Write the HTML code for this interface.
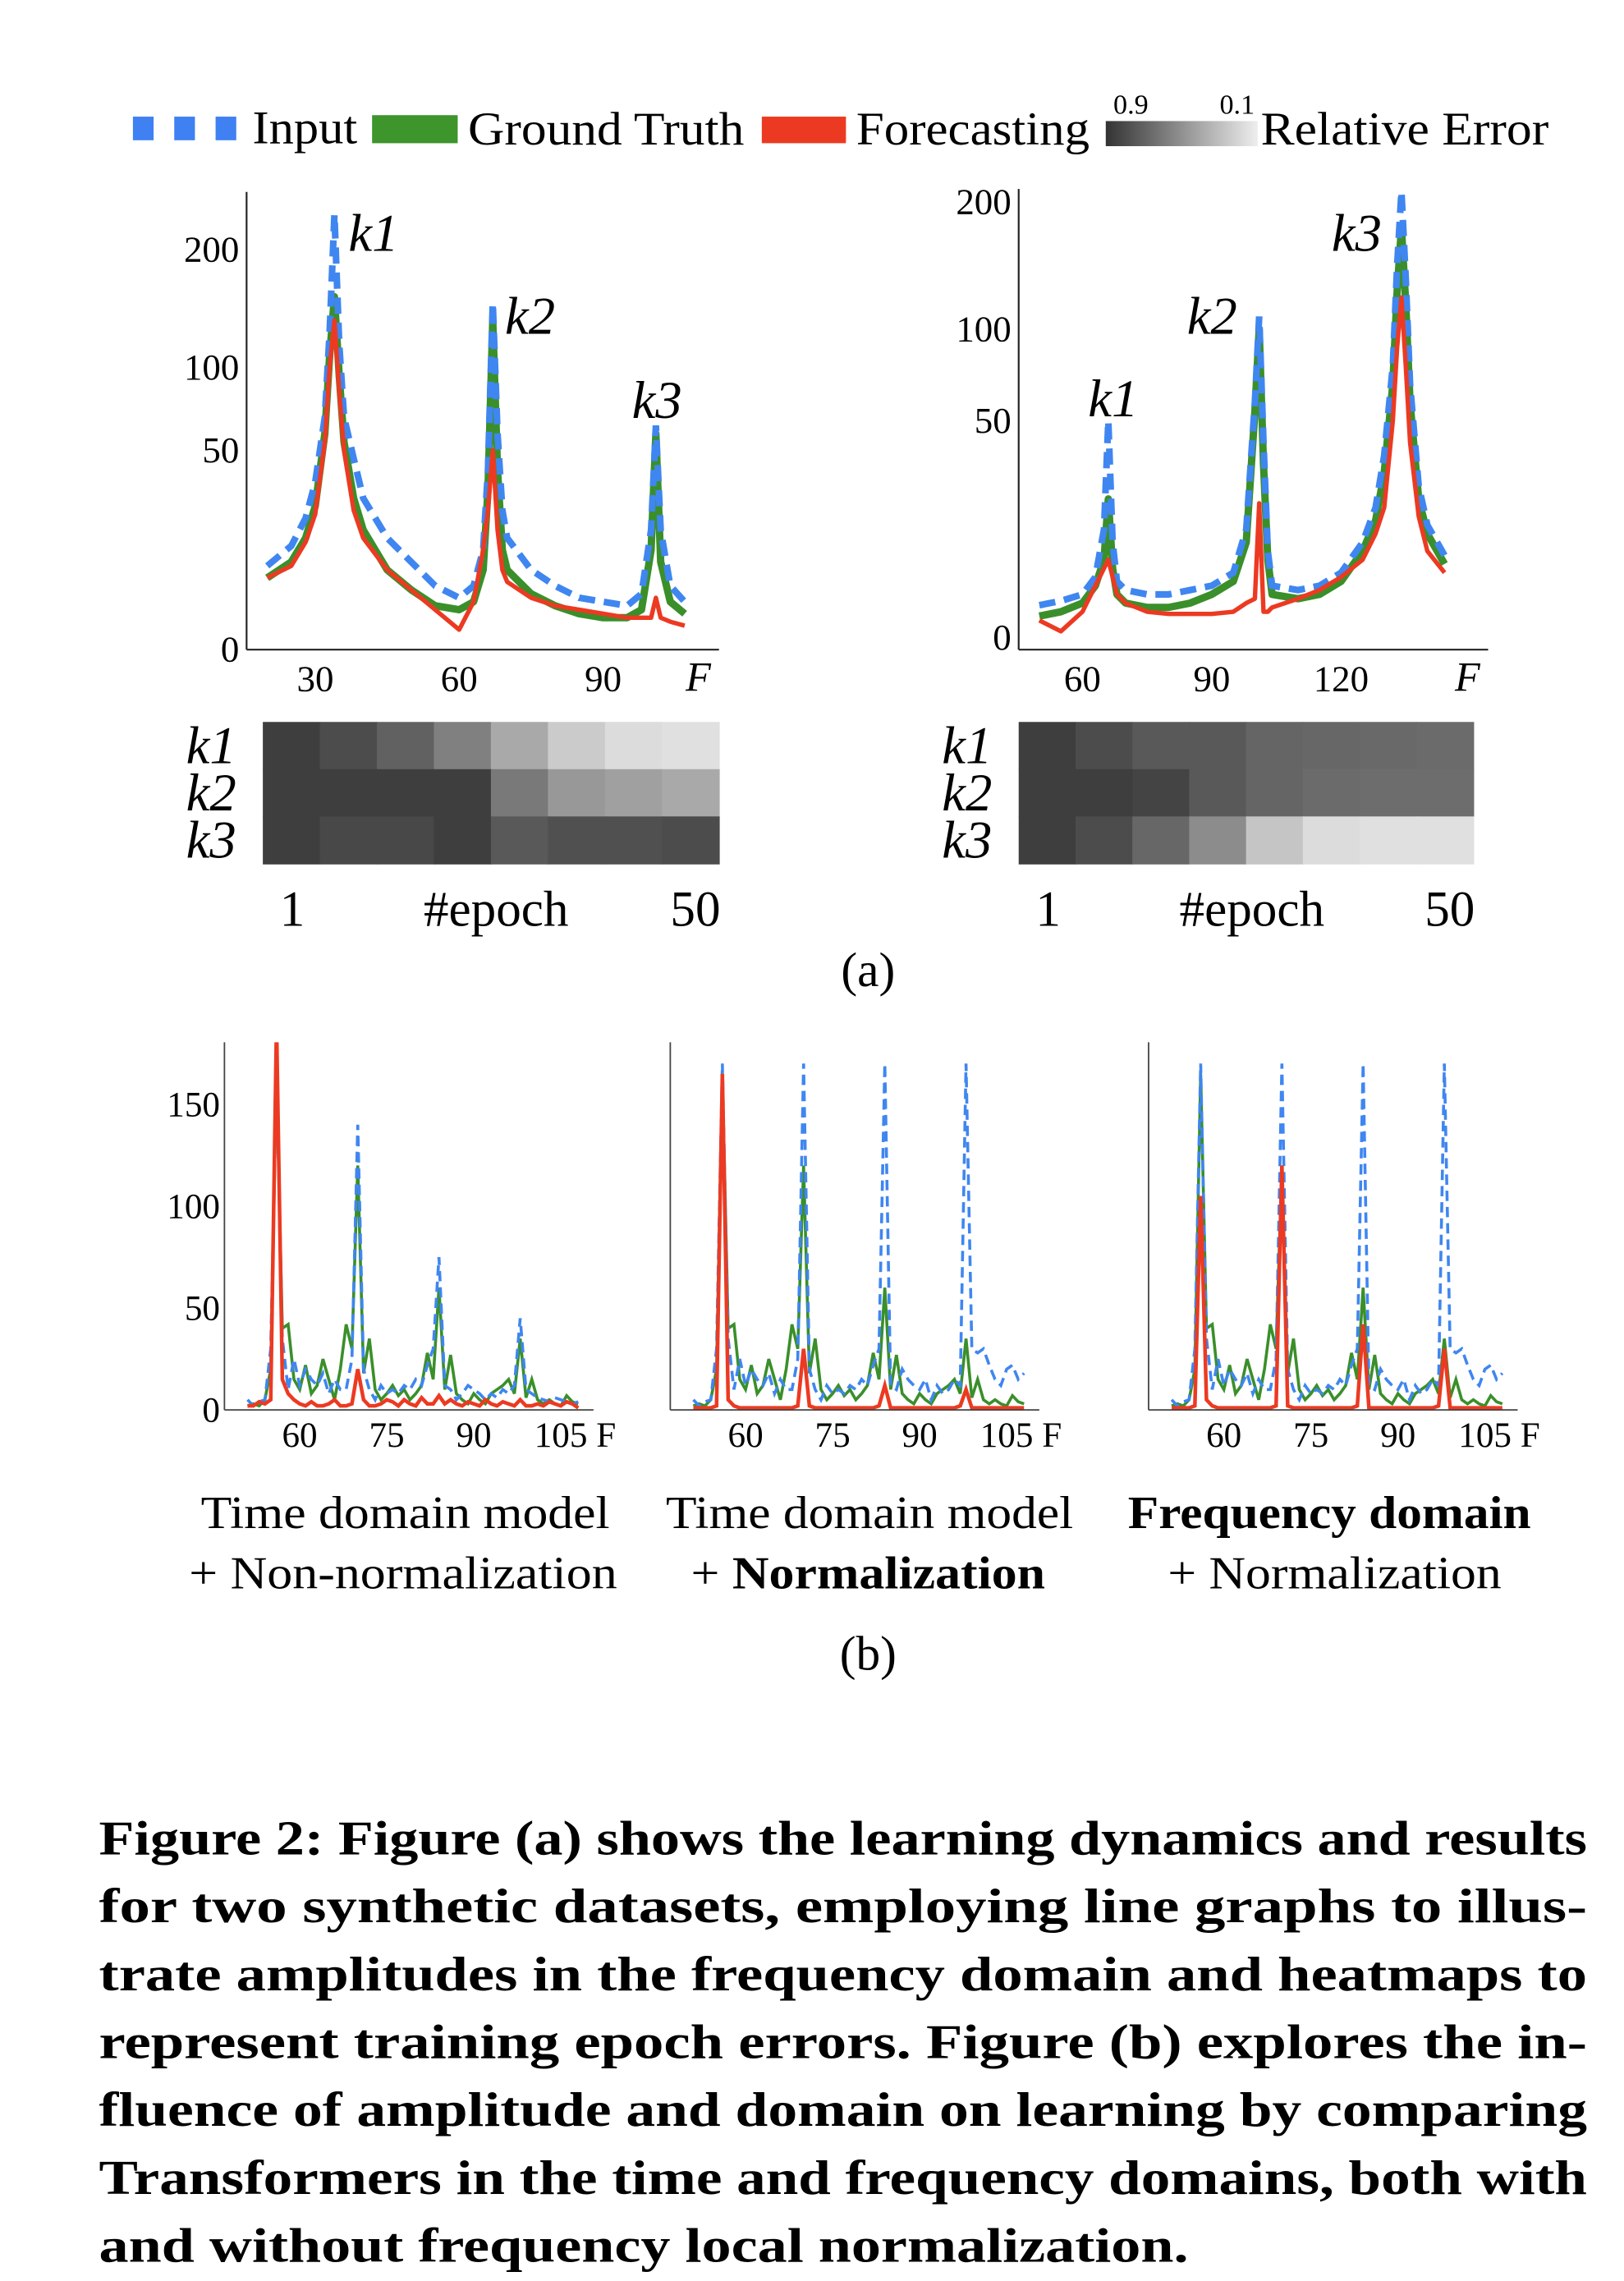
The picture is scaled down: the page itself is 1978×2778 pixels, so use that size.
<!DOCTYPE html>
<html><head><meta charset="utf-8"><style>
html,body{margin:0;padding:0;background:#fff}
svg{display:block}
text{font-family:"Liberation Serif","Times New Roman",Times,serif;fill:#000}
</style></head><body>
<svg id="fig" width="1978" height="2778" viewBox="0 0 1100 1545" xmlns="http://www.w3.org/2000/svg" font-family="Liberation Serif, Times New Roman, Times, serif">
<defs><linearGradient id="errgrad" x1="0" x2="1" y1="0" y2="0"><stop offset="0" stop-color="#333"/><stop offset="1" stop-color="#eee"/></linearGradient></defs>
<g>
 <g>
  <rect x="90" y="79" width="14" height="16" fill="#3f80f2"/><rect x="118" y="79" width="14" height="16" fill="#3f80f2"/><rect x="146" y="79" width="14" height="16" fill="#3f80f2"/>
  <text x="171" y="97" font-size="32" textLength="71" lengthAdjust="spacingAndGlyphs">Input</text></g>
 <g><rect x="252" y="78" width="58" height="19" fill="#3d952c"/><text x="317" y="98" font-size="32" textLength="187" lengthAdjust="spacingAndGlyphs">Ground Truth</text></g>
 <g><rect x="516" y="79" width="57" height="18" fill="#ec3a22"/><text x="580" y="98" font-size="32" textLength="158" lengthAdjust="spacingAndGlyphs">Forecasting</text></g>
 <g><rect x="749" y="82" width="103" height="17" fill="url(#errgrad)"/>
  <text x="766" y="77" font-size="19" text-anchor="middle">0.9</text><text x="838" y="77" font-size="19" text-anchor="middle">0.1</text>
  <text x="854" y="98" font-size="32" textLength="195" lengthAdjust="spacingAndGlyphs">Relative Error</text></g>
</g>
<g id="plots"></g>
<text x="588" y="668" font-size="33" text-anchor="middle">(a)</text>
<g>
<text x="136" y="1035" font-size="31" textLength="277" lengthAdjust="spacingAndGlyphs">Time domain model</text>
<text x="128" y="1076" font-size="31" textLength="290" lengthAdjust="spacingAndGlyphs">+ Non-normalization</text>
<text x="451" y="1035" font-size="31" textLength="276" lengthAdjust="spacingAndGlyphs">Time domain model</text>
<text x="468" y="1076" font-size="31" textLength="240" lengthAdjust="spacingAndGlyphs">+ <tspan font-weight="bold">Normalization</tspan></text>
<text x="764" y="1035" font-size="31" font-weight="bold" textLength="273" lengthAdjust="spacingAndGlyphs">Frequency domain</text>
<text x="791" y="1076" font-size="31" textLength="226" lengthAdjust="spacingAndGlyphs">+ Normalization</text>
</g>
<text x="588" y="1131" font-size="33" text-anchor="middle">(b)</text>
<g font-weight="bold" font-size="33">
<text x="67" y="1256" textLength="1008" lengthAdjust="spacingAndGlyphs">Figure 2: Figure (a) shows the learning dynamics and results</text>
<text x="67" y="1302" textLength="1008" lengthAdjust="spacingAndGlyphs">for two synthetic datasets, employing line graphs to illus-</text>
<text x="67" y="1348" textLength="1008" lengthAdjust="spacingAndGlyphs">trate amplitudes in the frequency domain and heatmaps to</text>
<text x="67" y="1394" textLength="1008" lengthAdjust="spacingAndGlyphs">represent training epoch errors. Figure (b) explores the in-</text>
<text x="67" y="1440" textLength="1008" lengthAdjust="spacingAndGlyphs">fluence of amplitude and domain on learning by comparing</text>
<text x="67" y="1486" textLength="1008" lengthAdjust="spacingAndGlyphs">Transformers in the time and frequency domains, both with</text>
<text x="67" y="1532" textLength="738" lengthAdjust="spacingAndGlyphs">and without frequency local normalization.</text>
</g>
</svg>
<script>
// ---- panel (a) left data ----
const aLeftF = [20,25,28,30,32,33,34,35,36,38,40,45,50,55,60,63,65,66,67,68,69,70,75,80,85,90,95,98,100,101,102,104,107];
const aLeftInput = [21,26,33,42,70,130,235,120,70,48,38,28,22,16,13,16,25,45,155,60,35,28,20,16,13,12,11,14,30,65,30,16,12];
const aLeftTruth = [18,22,28,36,60,110,160,95,55,38,30,20,15,11,10,12,20,40,140,45,25,20,14,11,9,8,8,10,25,60,22,12,9];
const aLeftFore = [18,21,27,34,55,100,140,85,50,35,28,20,15,10,5,12,25,35,50,30,20,17,13,11,10,9,8,8,8,13,8,7,6];
const aLeftXTicks = [30,60,90];
const aLeftYTicks = [0,50,100,200];
// ---- panel (a) right data ----
const aRightF = [50,55,60,63,65,66,67,68,70,75,80,85,90,95,98,100,101,102,103,104,110,115,120,125,128,130,132,133,134,135,136,138,140,144];
const aRightInput = [7.5,8.5,10,14,25,50,22,13,11,10,10,11,12,15,25,60,110,45,20,12,11,12,15,22,30,42,80,150,210,140,70,35,26,19];
const aRightTruth = [5,6,8,12,18,32,16,10,8,7,7,8,10,13,22,55,100,40,18,10,9,10,13,20,27,38,70,130,180,120,60,32,24,17];
const aRightFore = [4,1.5,6,12,16,18,14,10,8,6,5.5,5.5,5.5,6,8,9,31,6,6,7,9,11,14,18,24,30,50,90,125,80,45,28,20,15];
const aRightXTicks = [60,90,120];
const aRightYTicks = [0,50,100,200];
// ---- heatmaps: relative error per key (rows) and epoch bins (cols) ----
const heatRows = ['k1','k2','k3'];
const heatLeft = [[0.9,0.83,0.73,0.58,0.38,0.21,0.13,0.11],[0.9,0.9,0.9,0.9,0.61,0.46,0.42,0.38],[0.9,0.85,0.85,0.9,0.77,0.81,0.81,0.83]];
const heatRight = [[0.9,0.83,0.77,0.77,0.71,0.7,0.69,0.68],[0.9,0.9,0.87,0.77,0.71,0.68,0.67,0.67],[0.9,0.83,0.7,0.52,0.24,0.13,0.11,0.11]];
// ---- panel (b) data, F = 51..108 ----
const bF = [51,52,53,54,55,56,57,58,59,60,61,62,63,64,65,66,67,68,69,70,71,72,73,74,75,76,77,78,79,80,81,82,83,84,85,86,87,88,89,90,91,92,93,94,95,96,97,98,99,100,101,102,103,104,105,106,107,108];
const bTruth = [2,3,2,5,20,165,40,42,15,10,22,8,12,25,15,5,20,42,30,120,18,35,10,5,8,12,7,10,5,8,12,28,15,60,10,27,8,5,3,8,5,3,8,10,12,15,8,35,6,15,5,3,5,3,2,7,4,3];
const bInput1 = [5,2,4,5,30,165,35,10,25,12,20,15,12,18,8,15,10,10,25,140,20,10,5,12,8,10,8,12,10,15,12,22,30,75,12,10,5,8,12,10,8,5,8,6,10,8,12,45,10,8,6,5,4,6,5,4,3,4];
const bInput2 = [5,2,4,5,30,170,35,10,25,12,20,15,12,18,8,15,10,10,25,170,20,10,5,12,8,10,8,12,10,15,12,22,30,170,12,10,20,15,12,10,15,5,12,8,10,15,12,170,30,28,30,22,15,12,20,22,15,18];
const bFore1 = [2,2,4,3,5,190,15,8,5,3,2,4,2,2,3,5,2,2,3,20,5,2,2,3,5,4,2,5,3,2,6,3,3,7,3,5,3,2,4,3,2,5,3,2,4,3,2,5,2,2,3,2,4,3,2,4,3,1];
const bFore2 = [1,1,1,1,2,165,5,2,1,1,1,1,1,1,1,1,1,1,2,30,2,1,1,1,1,1,1,1,1,1,1,1,2,12,1,1,1,1,1,1,1,1,1,1,1,1,2,10,1,1,1,1,1,1,1,1,1,1];
const bFore3 = [1,1,1,1,2,105,5,2,1,1,1,1,1,1,1,1,1,1,2,120,2,1,1,1,1,1,1,1,1,1,1,1,2,42,1,1,1,1,1,1,1,1,1,1,1,1,2,30,1,1,1,1,1,1,1,1,1,1];
const bXTicks = [60,75,90,105];
const bYTicks = [0,50,100,150];

const NS='http://www.w3.org/2000/svg';
const root=document.getElementById('plots');
function mk(tag,attrs,parent){const e=document.createElementNS(NS,tag);for(const k in attrs)e.setAttribute(k,attrs[k]);(parent||root).appendChild(e);return e;}
function interp(v,dom,rng){for(let i=0;i<dom.length-1;i++){if(v<=dom[i+1]||i===dom.length-2){const t=(v-dom[i])/(dom[i+1]-dom[i]);return rng[i]+t*(rng[i+1]-rng[i]);}}}
function linePath(F,V,sx,sy){return F.map((f,i)=>(i?'L':'M')+sx(f).toFixed(2)+','+sy(V[i]).toFixed(2)).join('');}
const BLUE='#3f86f0',GREEN='#3a8f2a',RED='#ec3a22';

function chartA(cfg){
  const g=mk('g',{});
  
  
  const sx=f=>cfg.x0+f*cfg.kx;
  const sy=v=>interp(v,cfg.yd,cfg.yr);
  const clipId=cfg.name+'-clip';
  const cp=mk('clipPath',{id:clipId},g);mk('rect',{x:cfg.ax,y:cfg.top,width:cfg.right-cfg.ax,height:cfg.base-cfg.top},cp);
  const lines=mk('g',{'clip-path':'url(#'+clipId+')'},g);
  const gt=mk('path',{d:linePath(cfg.F,cfg.truth,sx,sy),fill:'none',stroke:GREEN,'stroke-width':5,'stroke-linejoin':'round'},lines);
  
  
  const inp=mk('path',{d:linePath(cfg.F,cfg.input,sx,sy),fill:'none',stroke:BLUE,'stroke-width':4.5,'stroke-dasharray':'11 6'},lines);
  
  
  const fc=mk('path',{d:linePath(cfg.F,cfg.fore,sx,sy),fill:'none',stroke:RED,'stroke-width':3,'stroke-linejoin':'round'},lines);
  
  
  const ya=mk('line',{x1:cfg.ax,y1:cfg.top,x2:cfg.ax,y2:cfg.base,stroke:'#222','stroke-width':1.2},g);
  
  
  const xa=mk('line',{x1:cfg.ax,y1:cfg.base,x2:cfg.right,y2:cfg.base,stroke:'#222','stroke-width':1.2},g);
  
  
  cfg.xt.forEach(t=>{const e=mk('text',{x:sx(t),y:cfg.base+28,'font-size':25,'text-anchor':'middle'},g);e.textContent=t;
    
    });
  const fl=mk('text',{x:cfg.right-14,y:cfg.base+28,'font-size':28,'font-style':'italic','text-anchor':'middle'},g);fl.textContent='F';
  
  
  cfg.yt.forEach(t=>{const e=mk('text',{x:cfg.ax-5,y:sy(t)+8,'font-size':25,'text-anchor':'end'},g);e.textContent=t;
    
    });
  cfg.klabels.forEach(k=>{const e=mk('text',{x:k[1],y:k[2],'font-size':36,'font-style':'italic'},g);e.textContent=k[0];
    
    });
}
chartA({name:'chart-a-left',F:aLeftF,input:aLeftInput,truth:aLeftTruth,fore:aLeftFore,x0:116,kx:3.25,yd:[0,50,100,200,250],yr:[440,305,249,169,135],
  ax:167,top:130,base:440,right:487,xt:aLeftXTicks,yt:aLeftYTicks,klabels:[['k1',236,170],['k2',342,226],['k3',428,283]]});
chartA({name:'chart-a-right',F:aRightF,input:aRightInput,truth:aRightTruth,fore:aRightFore,x0:558,kx:2.92,yd:[0,50,100,200,250],yr:[432,285,223,137,100],
  ax:690,top:128,base:440,right:1008,xt:aRightXTicks,yt:aRightYTicks,klabels:[['k1',737,282],['k2',804,226],['k3',902,170]]});

function heat(name,data,x,w){
  const g=mk('g',{});
  
  
  const top=489,rh=32,cw=w/data[0].length;
  data.forEach((row,r)=>{
    row.forEach((v,c)=>{
      const gv=Math.round(0x3e+(0.9-v)/0.8*(0xe2-0x3e));
      const cell=mk('rect',{x:x+c*cw,y:top+r*rh,width:cw+0.5,height:rh+0.5,fill:'rgb('+gv+','+gv+','+gv+')'},g);
      
      
    });
    const l=mk('text',{x:x-18,y:top+r*rh+28,'font-size':36,'font-style':'italic','text-anchor':'end'},g);l.textContent=heatRows[r];
    
    
  });
  const a=mk('text',{x:x+20,y:627,'font-size':34,'text-anchor':'middle'},g);a.textContent='1';
  
  
  const b=mk('text',{x:x+158,y:627,'font-size':34,'text-anchor':'middle'},g);b.textContent='#epoch';
  
  
  const c=mk('text',{x:x+w-16,y:627,'font-size':34,'text-anchor':'middle'},g);c.textContent='50';
  
  
}
heat('heatmap-left',heatLeft,178,309);
heat('heatmap-right',heatRight,690,308);

function chartB(name,ax,x60,input,fore,showY){
  const g=mk('g',{});
  
  
  const kx=3.93, base=955, top=706, right=ax+250;
  const sx=f=>x60+(f-60)*kx;
  const sy=v=>base-v*1.38;
  const clipId=name+'-clip';
  const cp=mk('clipPath',{id:clipId},g);mk('rect',{x:ax,y:top,width:right-ax,height:base-top+3},cp);
  const lines=mk('g',{'clip-path':'url(#'+clipId+')'},g);
  const gt=mk('path',{d:linePath(bF,bTruth,sx,sy),fill:'none',stroke:GREEN,'stroke-width':2},lines);
  
  
  const inp=mk('path',{d:linePath(bF,input,sx,sy),fill:'none',stroke:BLUE,'stroke-width':2,'stroke-dasharray':'7 4'},lines);
  
  
  const fc=mk('path',{d:linePath(bF,fore,sx,sy),fill:'none',stroke:RED,'stroke-width':2.5},lines);
  
  
  const ya=mk('line',{x1:ax,y1:top,x2:ax,y2:base,stroke:'#444','stroke-width':1},g);
  
  
  const xa=mk('line',{x1:ax,y1:base,x2:right,y2:base,stroke:'#444','stroke-width':1},g);
  
  
  bXTicks.forEach(t=>{const e=mk('text',{x:sx(t),y:base+25,'font-size':24,'text-anchor':'middle'},g);e.textContent=t;
    
    });
  const fl=mk('text',{x:sx(105)+24,y:base+25,'font-size':24},g);fl.textContent='F';
  
  
  if(showY) bYTicks.forEach(t=>{const e=mk('text',{x:ax-3,y:sy(t)+8,'font-size':24,'text-anchor':'end'},g);e.textContent=t;
    
    });
}
chartB('chart-b-time-nonnorm',152,203,bInput1,bFore1,true);
chartB('chart-b-time-norm',454,505,bInput2,bFore2,false);
chartB('chart-b-freq-norm',778,829,bInput2,bFore3,false);
</script>
</body></html>
